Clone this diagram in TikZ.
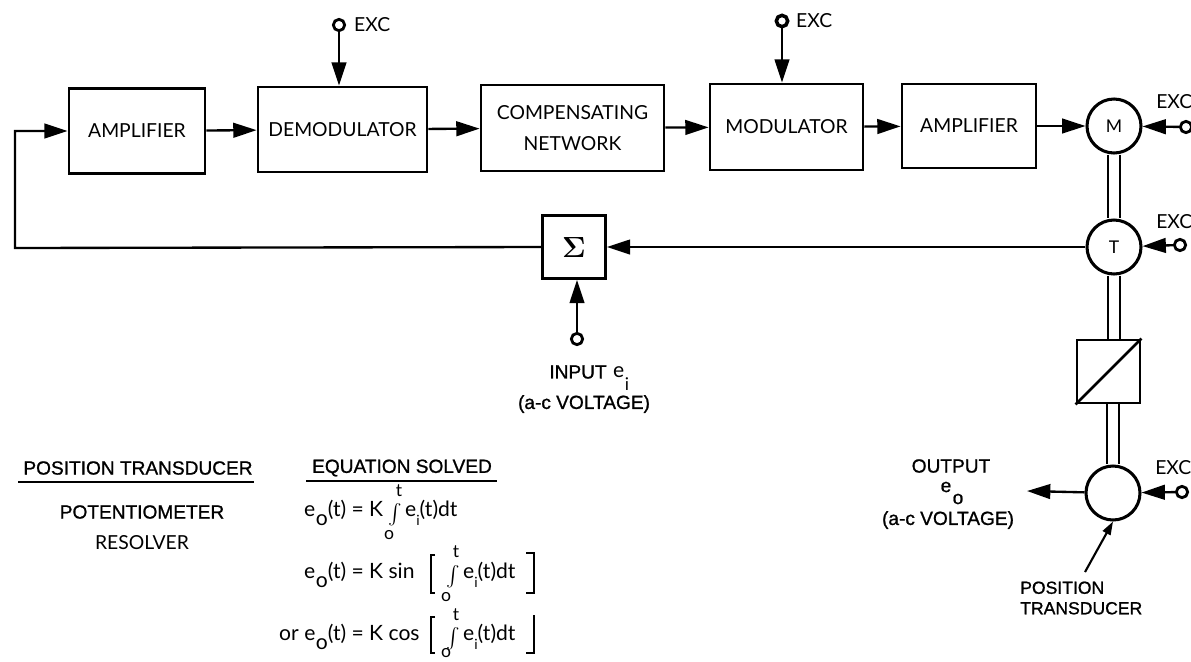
\documentclass[tikz,border=0pt]{standalone}
\usepackage{fontspec}
\usepackage{amsmath}
\setmainfont{Lato}
\newfontfamily\grotesk[FakeBold=1]{Liberation Sans}
\usetikzlibrary{arrows.meta}
\newcommand{\eo}{e\hspace{.02em}\raisebox{-.85ex}{o}}
\newcommand{\ei}{e\raisebox{-.8ex}{\fontsize{12}{12}\selectfont i}}
\newcommand{\bigint}{\raisebox{-.2ex}{\fontsize{19}{19}\selectfont$\int$}}
\tikzset{
  block/.style={draw,line width=2.4pt,inner sep=0pt,align=center,font=\fontsize{16.5}{26}\selectfont},
  unit/.style={draw,circle,line width=2.6pt,inner sep=0pt,minimum size=16.2mm,font=\fontsize{15}{17}\selectfont},
  term/.style={draw,circle,line width=2.4pt,inner sep=0pt,minimum size=3.4mm},
  flow/.style={line width=2pt,-{Triangle[length=7mm,width=4.4mm]}},
  shaft/.style={double,double distance=3.2mm,line width=1.8pt},
  exclab/.style={anchor=west,inner sep=0pt,font=\fontsize{16.5}{18}\selectfont},
  lab/.style={inner sep=0pt,font=\grotesk\fontsize{16.3}{19}\selectfont},
  eqn/.style={anchor=west,inner sep=0pt,font=\fontsize{18}{19}\selectfont},
  lim/.style={inner sep=0pt,font=\fontsize{15}{17}\selectfont},
}
\begin{document}
\begin{tikzpicture}[x=0.3mm,y=-0.3mm]
  \useasboundingbox (0,0) rectangle (1191,661);
  % forward path
  \node[block,minimum width=40.8mm,minimum height=25.5mm] (amp1) at (137,131) {AMPLIFIER};
  \node[block,minimum width=50.7mm,minimum height=25.5mm] (demod) at (342.5,129.5) {DEMODULATOR};
  \node[block,minimum width=54.9mm,minimum height=25.8mm] (comp) at (572.5,128) {COMPENSATING\\NETWORK};
  \node[block,minimum width=45.9mm,minimum height=25.8mm] (mod) at (786.5,127) {MODULATOR};
  \node[block,minimum width=40.2mm,minimum height=25.2mm] (amp2) at (969,126) {AMPLIFIER};
  \node[unit] (motor) at (1114,126) {M};
  \node[unit] (tach) at (1114,247) {T};
  \node[block,minimum size=18.9mm] (sum) at (574,247) {\fontsize{54}{54}\selectfont$\boldsymbol{\Sigma}$};
  \node[block,minimum size=18.9mm] (conv) at (1108.5,371.5) {};
  \node[unit] (xdcr) at (1113,493) {};
  % terminals
  \node[term] (excd) at (339,25) {};
  \node[term,line width=3pt] (excm) at (782,21) {};
  \node[term] (excmot) at (1186,127) {};
  \node[term] (exctach) at (1180,245) {};
  \node[term] (excxdcr) at (1182,492) {};
  \node[term] (input) at (577,339) {};
  \node[exclab] (labd) at (354,25) {EXC};
  \node[exclab] (labm) at (796,21) {EXC};
  \node[exclab] (labmot) at (1156,102) {EXC};
  \node[exclab] (labtach) at (1156,222) {EXC};
  \node[exclab] (labxdcr) at (1155,468) {EXC};
  \coordinate (fbl) at (15,248);
  \coordinate (outtip) at (1027,491);
  \coordinate (notetip) at (1085,572);
  % connectors
  \draw[flow] (amp1) -- (demod);
  \draw[flow] (demod) -- (comp);
  \draw[flow] (comp) -- (mod);
  \draw[flow] (mod) -- (amp2);
  \draw[flow] (amp2) -- (motor);
  \draw[flow] (excd) -- (excd |- demod.north);
  \draw[flow] (excm) -- (excm |- mod.north);
  \draw[flow] (excmot) -- (motor);
  \draw[flow] (exctach) -- (tach);
  \draw[flow] (excxdcr) -- (xdcr);
  \draw[flow] (tach) -- (sum);
  \draw[flow] (input) -- (input |- sum.south);
  \draw[flow] (sum.west) -- (fbl) |- (amp1.west);
  \draw[flow] (xdcr) -- (outtip);
  \draw[line width=1.8pt,-{Triangle[length=4mm,width=2.6mm]}] (notetip) -- (xdcr.south);
  \draw[shaft] (motor) -- (tach);
  \draw[shaft] (tach.south) -- (tach.south |- conv.north);
  \draw[shaft] (xdcr.north |- conv.south) -- (xdcr.north);
  \draw[line width=2.2pt] (conv.south west) -- (conv.north east);
  % labels
  \node[lab] (inlab) at (578,372) {INPUT};
  \node[eqn] (ine) at (613,372) {e};
  \node[lim] (ini) at (627,384) {i};
  \node[lab] (involt) at (584,404) {(a-c VOLTAGE)};
  \node[lab] (outlab) at (951,466) {OUTPUT};
  \node[lab] (oute) at (946,487) {e};
  \node[lab] (outo) at (958,499) {o};
  \node[lab] (outvolt) at (948,520) {(a-c VOLTAGE)};
  \node[lab,align=left,anchor=west,font=\grotesk\fontsize{15}{17.5}\selectfont] (note) at (1020,598) {POSITION\\TRANSDUCER};
  % table
  \node[lab] (headpos) at (138,468) {POSITION TRANSDUCER};
  \node[lab] (headeqn) at (402,468) {EQUATION SOLVED};
  \draw[line width=1.4pt] (18,482) -- (254,482);
  \draw[line width=1.4pt] (306,481) -- (497,481);
  \node[lab] (potm) at (142,512) {POTENTIOMETER};
  \node[block,draw=none] (rslv) at (142,543) {RESOLVER};
  % equations
  \node[eqn] (eqa) at (304,513) {\eo(t) = K};
  \node[eqn] (eqaint) at (388,515) {\bigint};
  \node[eqn] (eqab) at (405,513) {\ei(t)dt};
  \node[lim] (eqat) at (399,491) {t};
  \node[lim] (eqao) at (389,535) {o};
  \node[eqn] (eqb) at (304,575) {\eo(t) = K sin};
  \node[eqn] (eqbint) at (446,577) {\bigint};
  \node[eqn] (eqbb) at (463,575) {\ei(t)dt};
  \node[lim] (eqbt) at (456,552) {t};
  \node[lim] (eqbo) at (446,597) {o};
  \node[eqn] (eqc) at (279,637) {or \eo(t) = K cos};
  \node[eqn] (eqcint) at (446,639) {\bigint};
  \node[eqn] (eqcb) at (463,637) {\ei(t)dt};
  \node[lim] (eqct) at (456,615) {t};
  \node[lim] (eqco) at (446,653) {o};
  \draw[line width=1.4pt] (435,555) -- (431,555) -- (431,593) -- (435,593);
  \draw[line width=1.4pt] (526,553) -- (534,553) -- (534,593) -- (526,593);
  \draw[line width=1.4pt] (435,617) -- (431,617) -- (431,653) -- (435,653);
  \draw[line width=1.4pt] (526,653) -- (534,653) -- (534,615);
\end{tikzpicture}
\end{document}
